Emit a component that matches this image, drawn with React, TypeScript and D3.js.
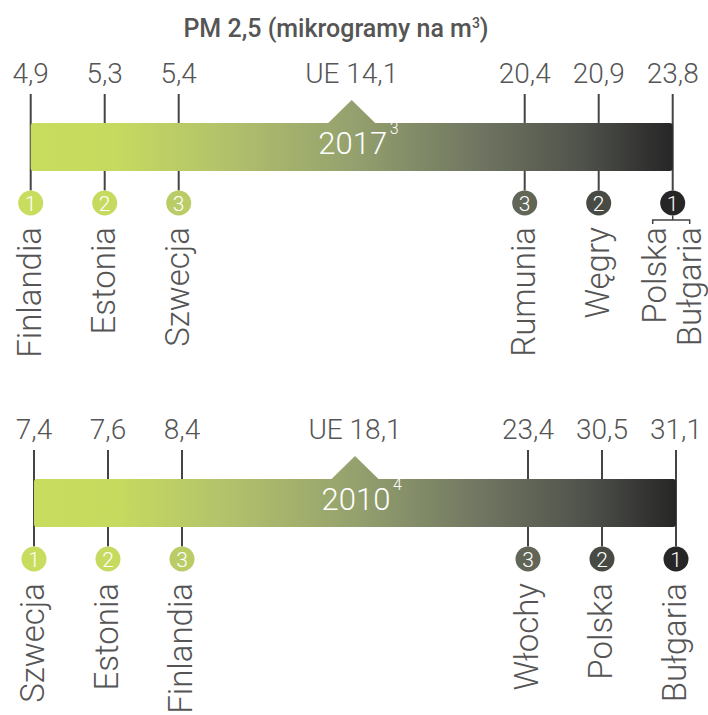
import React from "react";
import * as d3 from "d3";

const titleText = "PM 2,5 (mikrogramy na m";
const titleSup = "3";
const years = ["2017", "2010"];
const yearNotes = ["3", "4"];
const euAverage = [14.1, 18.1];
const lowest2017 = [4.9, 5.3, 5.4];
const lowestNames2017 = ["Finlandia", "Estonia", "Szwecja"];
const highest2017 = [20.4, 20.9, 23.8];
const highestNames2017 = [["Rumunia"], ["Węgry"], ["Polska", "Bułgaria"]];
const lowest2010 = [7.4, 7.6, 8.4];
const lowestNames2010 = ["Szwecja", "Estonia", "Finlandia"];
const highest2010 = [23.4, 30.5, 31.1];
const highestNames2010 = [["Włochy"], ["Polska"], ["Bułgaria"]];
const gradientStops = [0, 0.13, 0.3, 0.5, 0.7, 0.86, 1];
const gradientColors = ["#c8dc5e", "#c6da5f", "#b2c26b", "#95a16e", "#6f7561", "#4f524b", "#262626"];

const FONT = "Roboto, 'Noto Sans', sans-serif";
const TEXT = "#555555";
const LINE = "#444444";

const fmt = (v: number) => d3.format(".1f")(v).replace(".", ",");
const colorAt = d3
  .scaleLinear<string>()
  .domain(gradientStops)
  .range(gradientColors)
  .interpolate(d3.interpolateRgb)
  .clamp(true);

type Item = { x: number; value: number; rank: number; names: string[] };

function Panel({
  id,
  barTop,
  x0,
  year,
  note,
  eu,
  low,
  lowNames,
  high,
  highNames,
}: {
  id: string;
  barTop: number;
  x0: number;
  year: string;
  note: string;
  eu: number;
  low: number[];
  lowNames: string[];
  high: number[];
  highNames: string[][];
}) {
  const width = 642;
  const step = 74;
  const barH = 48;
  const x1 = x0 + width;
  const cx = (x0 + x1) / 2;
  const t = d3.scaleLinear().domain([x0, x1]).range([0, 1]);
  const circleY = barTop + 80;
  const r = 12.5;
  const nameTop = circleY + 24;

  const items: Item[] = [
    ...low.map((v, i) => ({ x: x0 + i * step, value: v, rank: i + 1, names: [lowNames[i]] })),
    ...high.map((v, j) => ({
      x: x1 - (high.length - 1 - j) * step,
      value: v,
      rank: high.length - j,
      names: highNames[j],
    })),
  ];

  return (
    <g>
      <defs>
        <linearGradient id={id} gradientUnits="userSpaceOnUse" x1={x0} x2={x1} y1={0} y2={0}>
          {gradientStops.map((s, i) => (
            <stop key={i} offset={s} stopColor={gradientColors[i]} />
          ))}
        </linearGradient>
      </defs>
      {items.map((d, i) => (
        <g key={i}>
          <text
            x={d.x}
            y={barTop - 40}
            textAnchor="middle"
            fontSize={28}
            fontWeight={300}
            fill={TEXT}
            fontFamily={FONT}
          >
            {fmt(d.value)}
          </text>
          <line x1={d.x} x2={d.x} y1={barTop - 29} y2={circleY - r} stroke={LINE} strokeWidth={2} />
        </g>
      ))}
      <rect x={x0} y={barTop} width={width} height={barH} rx={3} fill={`url(#${id})`} />
      <polygon
        points={`${cx - 24},${barTop + 0.5} ${cx},${barTop - 23} ${cx + 24},${barTop + 0.5}`}
        fill={`url(#${id})`}
      />
      <text
        x={cx}
        y={barTop - 40}
        textAnchor="middle"
        fontSize={28}
        fontWeight={300}
        fill={TEXT}
        fontFamily={FONT}
      >
        {"UE " + fmt(eu)}
      </text>
      <text
        x={cx + 1}
        y={barTop + 31}
        textAnchor="middle"
        fontSize={31}
        fontWeight={300}
        fill="#ffffff"
        fontFamily={FONT}
      >
        {year}
      </text>
      <text x={cx + 38} y={barTop + 11} fontSize={16} fontWeight={300} fill="#ffffff" fontFamily={FONT}>
        {note}
      </text>
      {items.map((d, i) => (
        <g key={"c" + i}>
          <circle cx={d.x} cy={circleY} r={r} fill={colorAt(t(d.x))} />
          <text
            x={d.x}
            y={circleY + 7.5}
            textAnchor="middle"
            fontSize={21}
            fontWeight={300}
            fill="#ffffff"
            fontFamily={FONT}
          >
            {d.rank}
          </text>
          {d.names.length === 1 ? (
            <text
              transform={`translate(${d.x},${nameTop}) rotate(-90)`}
              textAnchor="end"
              dy="0.3em"
              fontSize={33}
              fontWeight={300}
              fill={TEXT}
              fontFamily={FONT}
            >
              {d.names[0]}
            </text>
          ) : (
            <g>
              <path
                d={`M${d.x},${circleY + r} V${circleY + 17} M${d.x - 20},${circleY + 21} V${circleY + 17} H${d.x + 17} V${circleY + 21}`}
                fill="none"
                stroke={LINE}
                strokeWidth={1.5}
              />
              {d.names.map((n, k) => (
                <text
                  key={k}
                  transform={`translate(${d.x + (k === 0 ? -17 : 18)},${nameTop}) rotate(-90)`}
                  textAnchor="end"
                  dy="0.3em"
                  fontSize={33}
                  fontWeight={300}
                  fill={TEXT}
                  fontFamily={FONT}
                >
                  {n}
                </text>
              ))}
            </g>
          )}
        </g>
      ))}
    </g>
  );
}

export default function App() {
  return (
    <svg width={708} height={715} style={{ position: "absolute", left: 0, top: 0 }}>
      <rect width={708} height={715} fill="#ffffff" />
      <text x={336} y={37} textAnchor="middle" fontSize={25} fontWeight={500} fill={TEXT} fontFamily={FONT}>
        {titleText}
        <tspan fontSize={14} dy={-9}>
          {titleSup}
        </tspan>
        <tspan dy={9}>)</tspan>
      </text>
      <Panel
        id="g2017"
        barTop={123}
        x0={30.7}
        year={years[0]}
        note={yearNotes[0]}
        eu={euAverage[0]}
        low={lowest2017}
        lowNames={lowestNames2017}
        high={highest2017}
        highNames={highestNames2017}
      />
      <Panel
        id="g2010"
        barTop={479}
        x0={34}
        year={years[1]}
        note={yearNotes[1]}
        eu={euAverage[1]}
        low={lowest2010}
        lowNames={lowestNames2010}
        high={highest2010}
        highNames={highestNames2010}
      />
    </svg>
  );
}
